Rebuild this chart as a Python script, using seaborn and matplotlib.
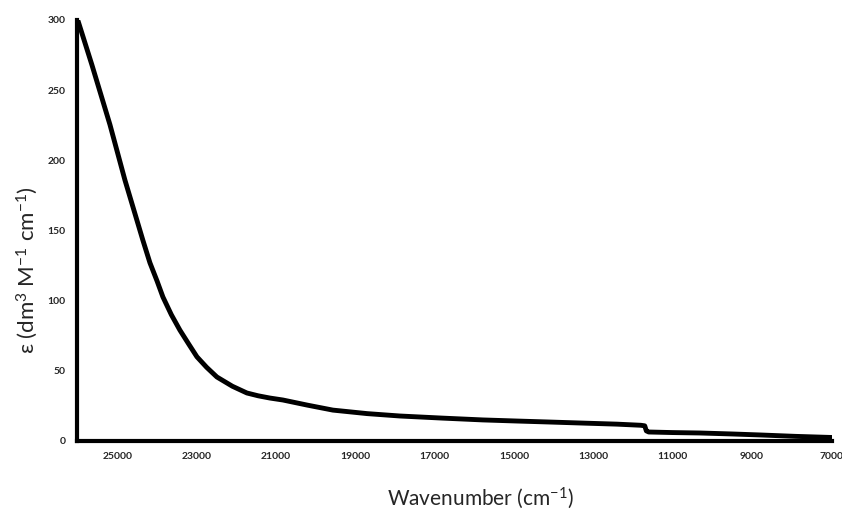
import pandas as pd
import matplotlib.pyplot as plt
import seaborn as sns

sns.set_style("white")
plt.rcParams["font.family"] = ["Lato", "DejaVu Sans"]
plt.rcParams["mathtext.fontset"] = "custom"
plt.rcParams["mathtext.rm"] = "Lato"
plt.rcParams["mathtext.it"] = "Lato"
plt.rcParams["mathtext.bf"] = "Lato:bold"

# values (wavenumber in cm-1, epsilon)
wavenumber = [26000, 25643, 25189, 24811, 24357, 24180, 24000, 23852, 23640, 23424,
              23200, 22995, 22750, 22491, 22100, 21734, 21450, 21154, 20826, 20200,
              19565, 18700, 17875, 16800, 15782, 14900, 14092, 13200, 12402, 11800,
              11700, 11660, 11600, 11000, 10310, 9500, 8797, 7900, 6980]
epsilon = [300, 268, 225.5, 186, 143, 127, 114, 102.6, 90, 79,
           69, 60, 52.5, 45.6, 39, 34.2, 32.2, 30.6, 29.2, 25.5,
           22, 19.5, 17.8, 16.3, 15, 14.2, 13.5, 12.7, 12, 11.2,
           10.8, 7.2, 6.4, 6.0, 5.7, 5.0, 4.3, 3.3, 2.5]

df = pd.DataFrame({"wn": wavenumber, "eps": epsilon})

fig = plt.figure(figsize=(8.42, 5.12), dpi=100)
ax = fig.add_axes([0.0914, 0.1387, 0.8966, 0.8223])

sns.lineplot(data=df, x="wn", y="eps", color="black", linewidth=3.5, ax=ax,
             sort=False)

ax.set_xlim(26020, 6980)
ax.set_ylim(0, 300)
ax.set_xticks(range(25000, 6999, -2000))
ax.set_yticks(range(0, 301, 50))
ax.tick_params(length=0, labelsize=7.5, pad=8)
for lbl in ax.get_xticklabels() + ax.get_yticklabels():
    lbl.set_fontweight("bold")

sns.despine(ax=ax)
for side in ["left", "bottom"]:
    ax.spines[side].set_linewidth(3)
    ax.spines[side].set_color("black")

ax.set_xlabel("Wavenumber (cm$^{-1}$)", fontsize=15, va="center")
ax.xaxis.set_label_coords(0.534, -0.135)
ax.set_ylabel("ε (dm$^{3}$ M$^{-1}$ cm$^{-1}$)", fontsize=16, va="center")
ax.yaxis.set_label_coords(-0.066, 0.406)

plt.savefig("out.png", dpi=100, facecolor="white")
